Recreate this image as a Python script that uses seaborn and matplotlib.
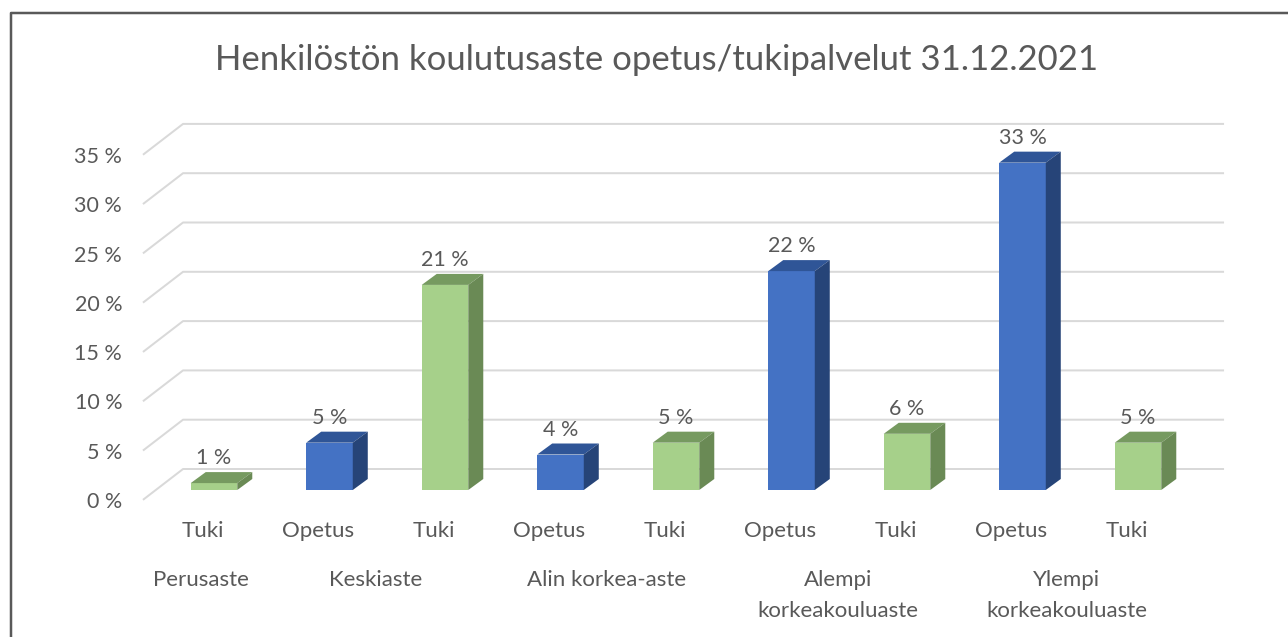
"""Henkilöstön koulutusaste -kaavio: seaborn-pylväät, 3D-pinnat piirretään päälle."""

import matplotlib

matplotlib.use("Agg")

import matplotlib.pyplot as plt
import pandas as pd
import seaborn as sns
from matplotlib.lines import Line2D
from matplotlib.patches import Polygon
from matplotlib.transforms import ScaledTranslation

TITLE = "Henkilöstön koulutusaste opetus/tukipalvelut 31.12.2021"
SERIES = ["Tuki", "Opetus", "Tuki", "Opetus", "Tuki", "Opetus", "Tuki", "Opetus", "Tuki"]
VALUES = [0.7, 4.8, 20.8, 3.6, 4.8, 22.2, 5.7, 33.2, 4.8]
VALUE_LABELS = ["1 %", "5 %", "21 %", "4 %", "5 %", "22 %", "6 %", "33 %", "5 %"]
GROUPS = ["Perusaste", "Keskiaste", "Alin korkea-aste", "Alempi\nkorkeakouluaste", "Ylempi\nkorkeakouluaste"]
GROUP_CENTERS = [-0.11, 1.4, 3.4, 5.4, 7.38]
Y_TICKS = [0, 5, 10, 15, 20, 25, 30, 35]

WIDTH, HEIGHT = 1288, 637
DPI = 100
PX = 72 / DPI
TEXT = "#595959"
GRID = "#d9d9d9"
FRONT = {"Opetus": "#4472c4", "Tuki": "#a6d08a"}
TOP = {"Opetus": "#2f5597", "Tuki": "#769a60"}
SIDE = {"Opetus": "#264478", "Tuki": "#6a8a55"}

# pikseliä yhtä kategoriaa ja yhtä prosenttiyksikköä kohti
X_STEP = 115.5
Y_STEP = 9.86
DEPTH_X = 15 / X_STEP
DEPTH_Y = 11 / Y_STEP


def px_offset(fig, dx, dy):
    return ScaledTranslation(dx / DPI, -dy / DPI, fig.dpi_scale_trans)


def draw_walls(ax):
    for tick in Y_TICKS:
        xs = [-0.615, -0.268, 8.745]
        ys = [tick - 1.0, tick + 2.13, tick + 2.13]
        ax.plot(xs, ys, color=GRID, lw=2.0 * PX, clip_on=False, zorder=0, solid_capstyle="butt")


def draw_depth(ax, bars):
    for bar, series in bars:
        x0 = bar.get_x()
        x1 = x0 + bar.get_width()
        h = bar.get_height()
        top = [(x0, h), (x0 + DEPTH_X, h + DEPTH_Y), (x1 + DEPTH_X, h + DEPTH_Y), (x1, h)]
        side = [(x1, 0), (x1 + DEPTH_X, DEPTH_Y), (x1 + DEPTH_X, h + DEPTH_Y), (x1, h)]
        ax.add_patch(Polygon(top, closed=True, facecolor=TOP[series], edgecolor="none", zorder=3))
        ax.add_patch(Polygon(side, closed=True, facecolor=SIDE[series], edgecolor="none", zorder=3))


def main():
    sns.set_theme(style="white")
    plt.rcParams["font.family"] = ["Lato", "DejaVu Sans"]

    df = pd.DataFrame({"pos": range(len(VALUES)), "series": SERIES, "value": VALUES})

    fig = plt.figure(figsize=(WIDTH / DPI, HEIGHT / DPI), dpi=DPI)
    ax = fig.add_axes([156.25 / WIDTH, (HEIGHT - 490) / HEIGHT, 1039.5 / WIDTH, 40 * Y_STEP / HEIGHT])
    ax.patch.set_alpha(0)

    sns.barplot(
        data=df,
        x="pos",
        y="value",
        hue="series",
        palette=FRONT,
        saturation=1,
        dodge=False,
        width=0.403,
        linewidth=0,
        legend=False,
        zorder=3,
        ax=ax,
    )

    bars = sorted((b for b in ax.patches if b.get_height() > 0), key=lambda b: b.get_x())
    draw_walls(ax)
    draw_depth(ax, list(zip(bars, SERIES)))

    for bar, label in zip(bars, VALUE_LABELS):
        ax.annotate(
            label,
            xy=(bar.get_x() + bar.get_width() / 2, bar.get_height()),
            xytext=(0, 25 * PX),
            textcoords="offset points",
            ha="center",
            va="center",
            fontsize=15.5,
            color=TEXT,
            zorder=5,
        )

    ax.set_xlim(-0.5, 8.5)
    ax.set_ylim(0, 40)
    ax.set_xlabel("")
    ax.set_ylabel("")
    sns.despine(ax=ax, left=True, bottom=True)

    ax.set_xticks(range(len(SERIES)), labels=SERIES)
    ax.set_yticks(Y_TICKS, labels=[f"{t} %" for t in Y_TICKS])
    ax.tick_params(axis="x", length=0, pad=31 * PX, labelsize=16, colors=TEXT)
    ax.tick_params(axis="y", length=0, pad=34 * PX, labelsize=15.5, colors=TEXT)
    for label in ax.get_xticklabels():
        label.set_transform(label.get_transform() + px_offset(fig, -11, 0))
    for label in ax.get_yticklabels():
        label.set_transform(label.get_transform() + px_offset(fig, 0, 10))

    for name, center in zip(GROUPS, GROUP_CENTERS):
        ax.annotate(
            name,
            xy=(center, 0),
            xytext=(0, -80 * PX),
            textcoords="offset points",
            ha="center",
            va="top",
            fontsize=16,
            color=TEXT,
            linespacing=1.67,
            annotation_clip=False,
        )

    ax.set_title(TITLE, x=(657 - 156.25) / 1039.5, y=1.065, pad=0, fontsize=25, color=TEXT)

    # kuvan ylä- ja vasen reuna
    fx, fy = 10.5 / WIDTH, 1 - 13 / HEIGHT
    fig.add_artist(Line2D([fx, fx, 1], [0, fy, fy], color="#595959", lw=2.5 * PX))

    fig.savefig("out.png", dpi=DPI, facecolor="white")


if __name__ == "__main__":
    main()
